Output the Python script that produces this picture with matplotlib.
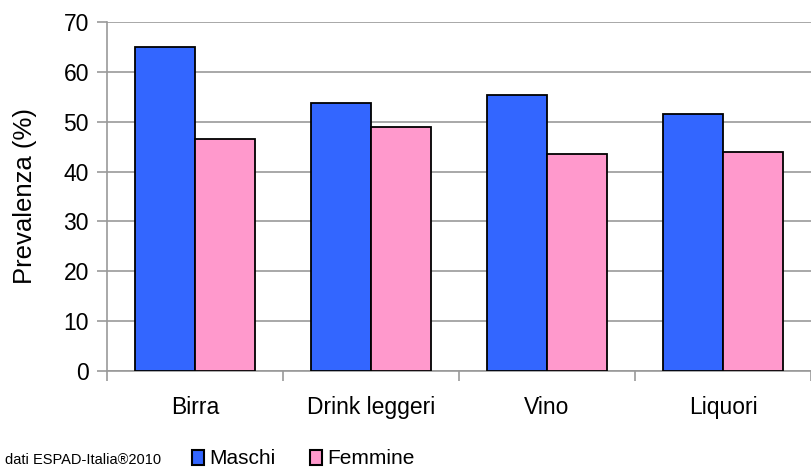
import matplotlib.pyplot as plt
import numpy as np
from matplotlib.patches import Rectangle

plt.rcParams['font.family'] = ['Liberation Sans', 'DejaVu Sans']

categories = ["Birra", "Drink leggeri", "Vino", "Liquori"]
maschi = [65.0, 53.8, 55.4, 51.5]
femmine = [46.5, 48.9, 43.5, 43.9]
series_names = ["Maschi", "Femmine"]
colors = ["#3366ff", "#ff99cc"]


def plot_prevalenza():
    fig = plt.figure(figsize=(8.11, 4.68), dpi=100)
    ax = fig.add_axes([107 / 811, 1 - 371 / 468, 704 / 811, 349 / 468])

    x = np.arange(len(categories))
    w = 0.34
    ax.bar(x - w / 2, maschi, w, color=colors[0], edgecolor="black", linewidth=1.3, zorder=3)
    ax.bar(x + w / 2, femmine, w, color=colors[1], edgecolor="black", linewidth=1.3, zorder=3)

    ax.set_xlim(-0.5, len(categories) - 0.5)
    ax.set_ylim(0, 70)
    ax.set_yticks(range(0, 71, 10))
    ax.yaxis.grid(True, color="#999999", linewidth=1.2, zorder=0)
    ax.set_axisbelow(True)

    ax.set_xticks(x)
    ax.set_xticklabels(categories, fontsize=16.5)
    ax.tick_params(axis="x", length=0, pad=18)
    ax.set_xticks(np.arange(len(categories) + 1) - 0.5, minor=True)
    ax.tick_params(axis="x", which="minor", length=7, color="#999999", width=1.2)
    ax.tick_params(axis="y", labelsize=16.5, length=7, color="#999999", width=1.2, pad=6)

    for s in ["top", "right"]:
        ax.spines[s].set_visible(False)
    for s in ["left", "bottom"]:
        ax.spines[s].set_color("#999999")
        ax.spines[s].set_linewidth(1.2)

    ax.set_ylabel("Prevalenza (%)", fontsize=18.5, labelpad=19)

    # legend at the bottom
    fig.text(5 / 811, 1 - 464 / 468, "dati ESPAD-Italia®2010", fontsize=10.5,
             va="baseline")
    for i, (name, c) in enumerate(zip(series_names, colors)):
        x0 = [192, 310][i]
        fig.patches.append(Rectangle((x0 / 811, 1 - 465 / 468), 12 / 811, 15 / 468,
                                     transform=fig.transFigure, facecolor=c,
                                     edgecolor="black", linewidth=1.5))
        fig.text((x0 + 17) / 811, 1 - 464 / 468, name, fontsize=15,
                 va="baseline")

    fig.savefig("out.png", dpi=100)


if __name__ == "__main__":
    plot_prevalenza()
